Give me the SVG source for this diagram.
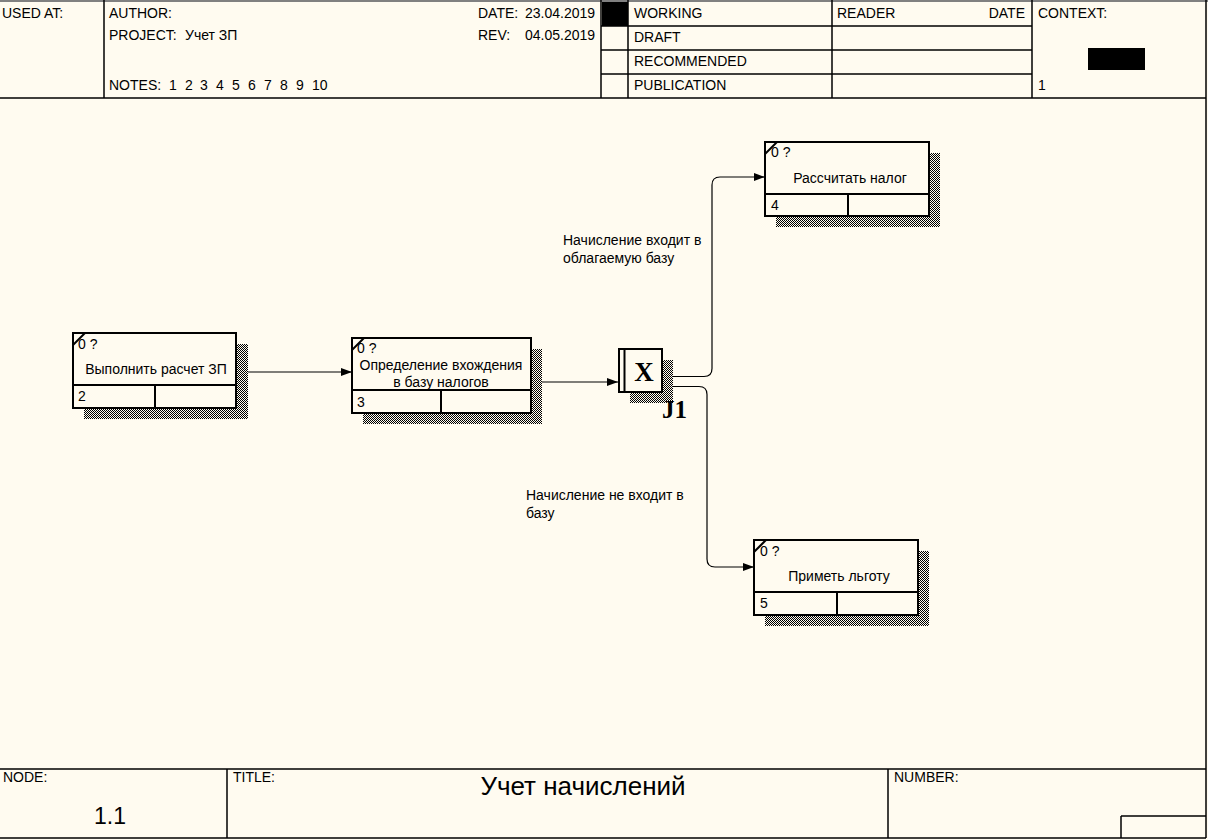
<svg xmlns="http://www.w3.org/2000/svg" width="1208" height="840" viewBox="0 0 1208 840">
<defs>
<pattern id="hatch" width="2" height="2" patternUnits="userSpaceOnUse">
<rect width="2" height="2" fill="#fffbf0"/>
<rect x="0" y="0" width="1" height="1" fill="#000"/>
<rect x="1" y="1" width="1" height="1" fill="#000"/>
</pattern>
<marker id="arr" markerWidth="11" markerHeight="8" refX="11" refY="4" orient="auto" markerUnits="userSpaceOnUse">
<path d="M0,0 L11,4 L0,8 Z" fill="#000"/>
</marker>
<style>
text{font-family:"Liberation Sans",Arial,sans-serif;font-size:14px;fill:#000}
.frame{stroke:#000;stroke-width:1.5;fill:none}
.box{fill:#fffbf0;stroke:#000;stroke-width:2}
.in{stroke:#000;stroke-width:2}
.sh{fill:url(#hatch)}
.conn{fill:none;stroke:#000;stroke-width:1.2}
.mid{text-anchor:middle}
.serif{font-family:"Liberation Serif","Times New Roman",serif;font-weight:bold}
</style>
</defs>
<rect width="1208" height="840" fill="#fffbf0"/>
<g id="header">
<line x1="0" y1="1" x2="1208" y2="1" stroke="#808080" stroke-width="2"/>
<line class="frame" x1="0" y1="98" x2="1206" y2="98"/>
<line class="frame" x1="1206" y1="0" x2="1206" y2="838"/>
<line class="frame" x1="104" y1="0" x2="104" y2="98"/>
<line class="frame" x1="601" y1="0" x2="601" y2="98"/>
<line class="frame" x1="628" y1="0" x2="628" y2="98"/>
<line class="frame" x1="832" y1="0" x2="832" y2="98"/>
<line class="frame" x1="1032" y1="0" x2="1032" y2="98"/>
<line class="frame" x1="601" y1="26" x2="1032" y2="26"/>
<line class="frame" x1="601" y1="50" x2="1032" y2="50"/>
<line class="frame" x1="601" y1="74" x2="1032" y2="74"/>
<rect x="602" y="2" width="26" height="24" fill="#000"/>
<rect x="1088" y="48" width="57" height="22" fill="#000"/>
<text x="2" y="18">USED AT:</text>
<text x="109" y="18">AUTHOR:</text>
<text x="109" y="40">PROJECT:</text>
<text x="185" y="40">Учет ЗП</text>
<text x="109" y="90">NOTES:</text>
<text x="169" y="90">1</text><text x="185" y="90">2</text><text x="200" y="90">3</text><text x="216" y="90">4</text><text x="232" y="90">5</text><text x="248" y="90">6</text><text x="264" y="90">7</text><text x="280" y="90">8</text><text x="296" y="90">9</text><text x="312" y="90">10</text>
<text x="478" y="18">DATE:</text>
<text x="525" y="18">23.04.2019</text>
<text x="478" y="40">REV:</text>
<text x="525" y="40">04.05.2019</text>
<text x="634" y="18">WORKING</text>
<text x="634" y="42">DRAFT</text>
<text x="634" y="66">RECOMMENDED</text>
<text x="634" y="90">PUBLICATION</text>
<text x="837" y="18">READER</text>
<text x="1025" y="18" text-anchor="end">DATE</text>
<text x="1038" y="18">CONTEXT:</text>
<text x="1038" y="90">1</text>
</g>
<g id="footer">
<line class="frame" x1="0" y1="769" x2="1206" y2="769"/>
<line class="frame" x1="0" y1="838" x2="1206" y2="838"/>
<line class="frame" x1="227" y1="769" x2="227" y2="838"/>
<line class="frame" x1="888" y1="769" x2="888" y2="838"/>
<line class="frame" x1="1121" y1="816" x2="1206" y2="816"/>
<line class="frame" x1="1121" y1="816" x2="1121" y2="838"/>
<text x="3" y="782">NODE:</text>
<text x="233" y="782">TITLE:</text>
<text x="894" y="782">NUMBER:</text>
<text x="583" y="795" class="mid" style="font-size:26px">Учет начислений</text>
<text x="110" y="824" class="mid" style="font-size:23px">1.1</text>
</g>
<g id="connectors">
<path class="conn" d="M236,372 H352" marker-end="url(#arr)"/>
<path class="conn" d="M531,382 H618" marker-end="url(#arr)"/>
<path class="conn" d="M662,376.5 H704 Q712,376.5 712,368.5 V185 Q712,177 720,177 H765" marker-end="url(#arr)"/>
<path class="conn" d="M662,386.5 H699 Q707,386.5 707,394.5 V559 Q707,567 715,567 H754" marker-end="url(#arr)"/>
<text x="563" y="245">Начисление входит в</text>
<text x="563" y="263">облагаемую базу</text>
<text x="526" y="500">Начисление не входит в</text>
<text x="526" y="518">базу</text>
</g>
<g id="node2">
<rect class="sh" x="84" y="344" width="164" height="75"/>
<rect class="box" x="73" y="333" width="163" height="75"/>
<line class="in" x1="73" y1="385" x2="236" y2="385"/>
<line class="in" x1="155" y1="385" x2="155" y2="408"/>
<line class="in" x1="73" y1="345" x2="85" y2="333"/>
<text x="78" y="349">0 ?</text>
<text x="156" y="374" class="mid">Выполнить расчет ЗП</text>
<text x="78" y="401">2</text>
</g>
<g id="node3">
<rect class="sh" x="363" y="349" width="179" height="75"/>
<rect class="box" x="352" y="338" width="179" height="75"/>
<line class="in" x1="352" y1="390" x2="531" y2="390"/>
<line class="in" x1="441" y1="390" x2="441" y2="413"/>
<line class="in" x1="352" y1="350" x2="364" y2="338"/>
<text x="357" y="353">0 ?</text>
<text x="441" y="370" class="mid">Определение вхождения</text>
<text x="441" y="387" class="mid">в базу налогов</text>
<text x="357" y="407">3</text>
</g>
<g id="junctionJ1">
<rect class="sh" x="630" y="360" width="43" height="43"/>
<rect class="box" x="619" y="349" width="43" height="43"/>
<line class="in" x1="624.5" y1="349" x2="624.5" y2="392"/>
<text x="644" y="381" class="mid serif" style="font-size:27px">X</text>
<text x="662" y="418" class="serif" style="font-size:25px">J1</text>
</g>
<g id="node4">
<rect class="sh" x="776" y="153" width="164" height="74"/>
<rect class="box" x="765" y="142" width="164" height="74"/>
<line class="in" x1="765" y1="194" x2="929" y2="194"/>
<line class="in" x1="848" y1="194" x2="848" y2="216"/>
<line class="in" x1="765" y1="154" x2="777" y2="142"/>
<text x="771" y="157">0 ?</text>
<text x="850" y="183" class="mid">Рассчитать налог</text>
<text x="771" y="210">4</text>
</g>
<g id="node5">
<rect class="sh" x="765" y="551" width="164" height="75"/>
<rect class="box" x="754" y="540" width="164" height="75"/>
<line class="in" x1="754" y1="592" x2="918" y2="592"/>
<line class="in" x1="837" y1="592" x2="837" y2="615"/>
<line class="in" x1="754" y1="552" x2="766" y2="540"/>
<text x="760" y="556">0 ?</text>
<text x="839" y="581" class="mid">Приметь льготу</text>
<text x="760" y="608">5</text>
</g>
</svg>
